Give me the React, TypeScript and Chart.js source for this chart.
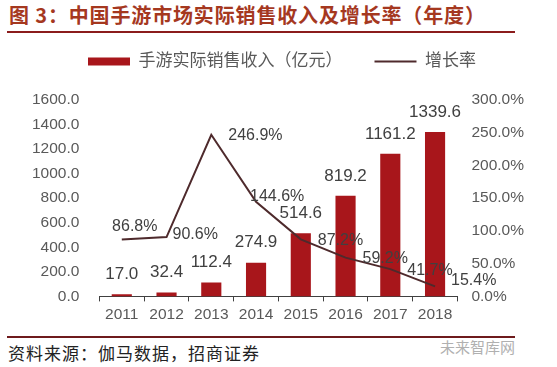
import React, { useEffect, useRef } from "react";
import { Chart, registerables } from "chart.js";

Chart.register(...registerables);

const years = ["2011", "2012", "2013", "2014", "2015", "2016", "2017", "2018"];
const revenue = [17.0, 32.4, 112.4, 274.9, 514.6, 819.2, 1161.2, 1339.6];
const growth = [86.8, 90.6, 246.9, 144.6, 87.2, 59.2, 41.7, 15.4];
const leftTicks = [0, 200, 400, 600, 800, 1000, 1200, 1400, 1600];
const rightTicks = [0, 50, 100, 150, 200, 250, 300];
const revenueLabel = "手游实际销售收入（亿元）";
const growthLabel = "增长率";
// label placement keywords for growth labels (style only)
const growthLabelPlace = ["above", "rightNear", "right", "aboveRight", "right", "right", "right", "rightUp"];

const BAR_COLOR = "#a8161b";
const LINE_COLOR = "#4e2a2c";
const TEXT_GRAY = "#595959";
const FONT = "'Liberation Sans', 'Noto Sans CJK SC', sans-serif";

const labelPlugin = {
  id: "valueLabels",
  afterDatasetsDraw(chart: any) {
    const ctx = chart.ctx;
    ctx.save();
    const barMeta = chart.getDatasetMeta(0);
    ctx.fillStyle = "#404040";
    ctx.font = `17px ${FONT}`;
    ctx.textAlign = "center";
    ctx.textBaseline = "middle";
    barMeta.data.forEach((el: any, i: number) => {
      ctx.fillText(revenue[i].toFixed(1), el.x, el.y - 20);
    });
    const lineMeta = chart.getDatasetMeta(1);
    ctx.font = `16px ${FONT}`;
    lineMeta.data.forEach((el: any, i: number) => {
      const t = growth[i].toFixed(1) + "%";
      const p = growthLabelPlace[i];
      if (p === "above") {
        ctx.textAlign = "center";
        ctx.fillText(t, el.x + 13, el.y - 13);
      } else if (p === "aboveRight") {
        ctx.textAlign = "left";
        ctx.fillText(t, el.x - 6, el.y - 5);
      } else if (p === "rightNear") {
        ctx.textAlign = "left";
        ctx.fillText(t, el.x + 6, el.y - 2);
      } else if (p === "rightUp") {
        ctx.textAlign = "left";
        ctx.fillText(t, el.x + 16, el.y - 6);
      } else {
        ctx.textAlign = "left";
        ctx.fillText(t, el.x + 17, el.y + 1);
      }
    });
    ctx.restore();
  },
};

const legendSpacer = {
  id: "legendSpacer",
  afterInit(chart: any) {
    const legend = chart.legend;
    if (!legend) return;
    const fit = legend.fit;
    legend.fit = function () {
      fit.call(this);
      this.height += 20;
    };
    const draw = legend.draw;
    legend.draw = function () {
      const ctx = chart.ctx;
      ctx.save();
      ctx.translate(7, 0);
      draw.call(this);
      ctx.restore();
    };
  },
};

function ChartBox() {
  const ref = useRef<HTMLCanvasElement | null>(null);
  useEffect(() => {
    if (!ref.current) return;
    const chart = new Chart(ref.current, {
      type: "bar",
      data: {
        labels: years,
        datasets: [
          {
            type: "bar",
            label: revenueLabel,
            data: revenue,
            backgroundColor: BAR_COLOR,
            barPercentage: 0.45,
            categoryPercentage: 1,
            yAxisID: "y",
            order: 1,
          } as any,
          {
            type: "line",
            label: growthLabel,
            data: growth,
            borderColor: LINE_COLOR,
            borderWidth: 2,
            pointRadius: 0,
            tension: 0,
            yAxisID: "y1",
            order: 0,
          } as any,
        ],
      },
      options: {
        animation: false,
        responsive: false,
        maintainAspectRatio: false,
        layout: { padding: { top: 21, left: 12, right: 19, bottom: 2 } },
        plugins: {
          tooltip: { enabled: false },
          legend: {
            display: true,
            position: "top",
            labels: {
              usePointStyle: true,
              pointStyleWidth: 42,
              boxHeight: 8,
              padding: 32,
              color: TEXT_GRAY,
              font: { size: 17, family: FONT },
              sort: (a: any, b: any) => a.datasetIndex - b.datasetIndex,
              generateLabels: () => [
                {
                  text: revenueLabel,
                  fillStyle: BAR_COLOR,
                  strokeStyle: BAR_COLOR,
                  lineWidth: 0,
                  pointStyle: "rect",
                  datasetIndex: 0,
                  hidden: false,
                  fontColor: TEXT_GRAY,
                },
                {
                  text: growthLabel,
                  fillStyle: LINE_COLOR,
                  strokeStyle: LINE_COLOR,
                  lineWidth: 2,
                  pointStyle: "line",
                  datasetIndex: 1,
                  hidden: false,
                  fontColor: TEXT_GRAY,
                },
              ],
            },
          },
        },
        scales: {
          x: {
            offset: true,
            grid: {
              display: true,
              offset: true,
              drawOnChartArea: false,
              drawTicks: true,
              tickLength: 5,
              color: "#404040",
            },
            border: { display: true, color: "#404040", width: 1 },
            ticks: {
              color: TEXT_GRAY,
              font: { size: 15.5, family: FONT },
              padding: 4,
              maxRotation: 0,
              minRotation: 0,
              autoSkip: false,
            },
          },
          y: {
            position: "left",
            min: 0,
            max: 1600,
            afterBuildTicks: (s: any) => {
              s.ticks = leftTicks.map((v) => ({ value: v }));
            },
            grid: { display: false, drawTicks: false },
            border: { display: false },
            ticks: {
              color: TEXT_GRAY,
              font: { size: 15.5, family: FONT },
              padding: 20,
              autoSkip: false,
              callback: (v: any) => Number(v).toFixed(1),
            },
          },
          y1: {
            position: "right",
            min: 0,
            max: 300,
            afterBuildTicks: (s: any) => {
              s.ticks = rightTicks.map((v) => ({ value: v }));
            },
            grid: { display: false, drawTicks: false },
            border: { display: false },
            ticks: {
              color: TEXT_GRAY,
              font: { size: 15.5, family: FONT },
              padding: 14,
              autoSkip: false,
              callback: (v: any) => Number(v).toFixed(1) + "%",
            },
          },
        },
      },
      plugins: [labelPlugin, legendSpacer],
    });
    return () => chart.destroy();
  }, []);
  return <canvas ref={ref} width={557} height={330} style={{ position: "absolute", left: 0, top: 0, width: 557, height: 330 }} />;
}

export default function App() {
  useEffect(() => {
    document.body.style.margin = "0";
  }, []);
  return (
    <div style={{ position: "relative", width: 557, height: 367, background: "#fff", overflow: "hidden" }}>
      <div
        style={{
          position: "absolute",
          left: 9,
          top: 2,
          fontFamily: "'Noto Sans CJK SC', sans-serif",
          fontWeight: 700,
          fontSize: 20,
          letterSpacing: "0.85px",
          lineHeight: "26px",
          color: "#a5381f",
          whiteSpace: "nowrap",
        }}
      >
        图 3：中国手游市场实际销售收入及增长率（年度）
      </div>
      <div style={{ position: "absolute", left: 7, top: 31, width: 508, height: 2, background: "#8b1c1c" }} />
      <div style={{ position: "absolute", left: 7, top: 336, width: 508, height: 2, background: "#6e1a1c" }} />
      <div
        style={{
          position: "absolute",
          left: 8,
          top: 341,
          fontFamily: "'Noto Sans CJK SC', sans-serif",
          fontSize: 17,
          letterSpacing: "1px",
          lineHeight: "24px",
          color: "#222",
          whiteSpace: "nowrap",
        }}
      >
        资料来源：伽马数据，招商证券
      </div>
      <div
        style={{
          position: "absolute",
          left: 440,
          top: 337,
          fontFamily: "'Noto Sans CJK SC', sans-serif",
          fontSize: 15,
          lineHeight: "20px",
          color: "#b0b0b0",
          whiteSpace: "nowrap",
        }}
      >
        未来智库网
      </div>
      <ChartBox />
    </div>
  );
}
